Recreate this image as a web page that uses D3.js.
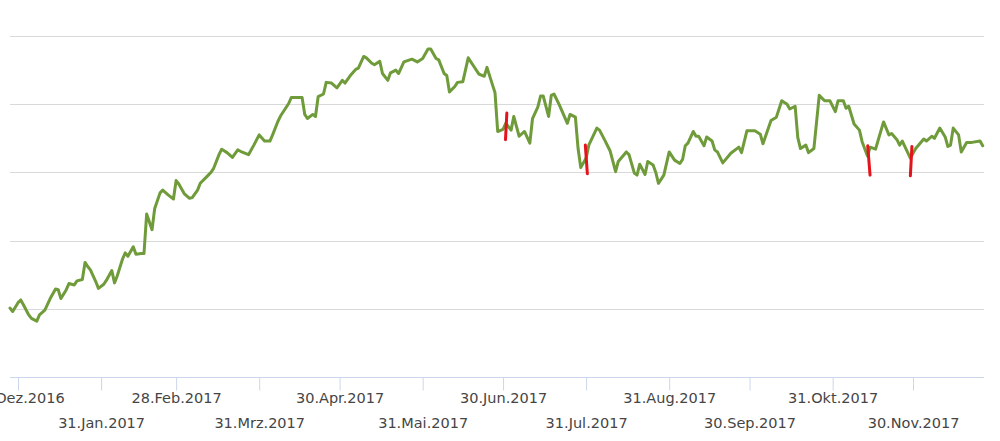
<!DOCTYPE html>
<html>
<head>
<meta charset="utf-8">
<script src="https://cdn.jsdelivr.net/npm/d3@7"></script>
<style>
  html, body { margin: 0; padding: 0; background: #ffffff; }
  svg { display: block; }
</style>
</head>
<body>
<div id="chart"></div>
<script>
// ---- data ----
const dates = [
  "2016-12-28","2016-12-29","2016-12-31","2017-01-01","2017-01-02","2017-01-04","2017-01-05","2017-01-07","2017-01-08","2017-01-10",
  "2017-01-12","2017-01-14","2017-01-15","2017-01-16","2017-01-18","2017-01-19","2017-01-21","2017-01-22","2017-01-24","2017-01-25",
  "2017-01-26","2017-01-27","2017-01-29","2017-01-30","2017-02-01","2017-02-02","2017-02-04","2017-02-05","2017-02-06","2017-02-08",
  "2017-02-09","2017-02-10","2017-02-12","2017-02-13","2017-02-15","2017-02-16","2017-02-17","2017-02-19","2017-02-20","2017-02-22",
  "2017-02-23","2017-02-25","2017-02-27","2017-02-28","2017-03-01","2017-03-03","2017-03-05","2017-03-06","2017-03-08","2017-03-09",
  "2017-03-11","2017-03-13","2017-03-14","2017-03-16","2017-03-17","2017-03-19","2017-03-21","2017-03-23","2017-03-24","2017-03-27",
  "2017-03-29","2017-03-31","2017-04-02","2017-04-04","2017-04-05","2017-04-07","2017-04-08","2017-04-11","2017-04-12","2017-04-15",
  "2017-04-16","2017-04-17","2017-04-18","2017-04-20","2017-04-21","2017-04-22","2017-04-24","2017-04-25","2017-04-27","2017-04-29",
  "2017-05-01","2017-05-02","2017-05-04","2017-05-06","2017-05-07","2017-05-09","2017-05-10","2017-05-12","2017-05-13","2017-05-15",
  "2017-05-16","2017-05-18","2017-05-19","2017-05-21","2017-05-22","2017-05-24","2017-05-27","2017-05-29","2017-05-31","2017-06-02",
  "2017-06-03","2017-06-05","2017-06-06","2017-06-08","2017-06-09","2017-06-10","2017-06-12","2017-06-13","2017-06-15","2017-06-17",
  "2017-06-19","2017-06-21","2017-06-23","2017-06-24","2017-06-26","2017-06-27","2017-06-28","2017-06-30","2017-07-01","2017-07-03",
  "2017-07-04","2017-07-06","2017-07-08","2017-07-10","2017-07-11","2017-07-13","2017-07-14","2017-07-15","2017-07-17","2017-07-18",
  "2017-07-19","2017-07-21","2017-07-24","2017-07-25","2017-07-27","2017-07-28","2017-07-29","2017-07-31","2017-08-01","2017-08-04",
  "2017-08-05","2017-08-07","2017-08-09","2017-08-11","2017-08-12","2017-08-15","2017-08-16","2017-08-18","2017-08-19","2017-08-20",
  "2017-08-22","2017-08-23","2017-08-25","2017-08-26","2017-08-27","2017-08-29","2017-08-31","2017-09-02","2017-09-04","2017-09-05",
  "2017-09-06","2017-09-07","2017-09-09","2017-09-10","2017-09-11","2017-09-13","2017-09-14","2017-09-16","2017-09-17","2017-09-18",
  "2017-09-20","2017-09-23","2017-09-26","2017-09-27","2017-09-29","2017-10-02","2017-10-04","2017-10-05","2017-10-08","2017-10-10",
  "2017-10-12","2017-10-14","2017-10-15","2017-10-17","2017-10-18","2017-10-19","2017-10-21","2017-10-22","2017-10-24","2017-10-26",
  "2017-10-28","2017-10-30","2017-11-01","2017-11-02","2017-11-04","2017-11-05","2017-11-06","2017-11-08","2017-11-10","2017-11-11",
  "2017-11-13","2017-11-14","2017-11-16","2017-11-19","2017-11-21","2017-11-22","2017-11-24","2017-11-25","2017-11-26","2017-11-29",
  "2017-12-01","2017-12-04","2017-12-05","2017-12-07","2017-12-08","2017-12-10","2017-12-12","2017-12-13","2017-12-14","2017-12-15",
  "2017-12-17","2017-12-18","2017-12-20","2017-12-22","2017-12-25","2017-12-26"
];
const values = [
  90.1, 89.6, 90.9, 91.3, 90.6, 89.1, 88.6, 88.2, 89.1, 89.8,
  91.5, 92.9, 92.8, 91.5, 92.8, 93.7, 93.5, 94.1, 94.3, 96.8,
  96.2, 95.7, 94.0, 93.0, 93.6, 94.2, 95.6, 93.8, 94.8, 97.3,
  98.2, 97.7, 99.1, 98.0, 98.1, 98.1, 103.9, 101.6, 104.7, 107.0,
  107.4, 106.7, 106.1, 108.8, 108.3, 106.9, 106.2, 106.3, 107.4, 108.4,
  109.2, 110.0, 110.6, 112.6, 113.4, 112.9, 112.2, 113.3, 113.1, 112.6,
  114.0, 115.5, 114.6, 114.6, 115.5, 117.5, 118.3, 120.1, 121.0, 121.0,
  121.0, 118.5, 117.9, 118.5, 118.2, 121.1, 121.5, 123.2, 123.1, 122.4,
  123.5, 123.1, 124.2, 125.1, 125.3, 127.0, 126.8, 126.0, 125.8, 126.3,
  124.5, 123.5, 124.6, 125.0, 124.5, 126.2, 126.6, 126.2, 126.7, 128.1,
  128.1, 126.7, 126.5, 124.5, 124.2, 121.8, 122.6, 123.2, 123.3, 126.8,
  125.6, 124.4, 124.1, 125.4, 122.9, 121.7, 116.0, 116.3, 117.2, 116.2,
  118.2, 115.3, 116.0, 114.3, 117.9, 119.6, 121.2, 121.2, 118.2, 121.3,
  121.5, 119.9, 117.2, 118.5, 118.1, 113.5, 110.7, 112.1, 114.0, 116.5,
  116.2, 114.7, 113.1, 110.1, 111.6, 113.0, 112.6, 109.9, 109.6, 111.2,
  109.7, 111.6, 111.1, 110.0, 108.4, 109.6, 113.0, 111.8, 111.3, 111.9,
  113.9, 114.3, 116.0, 115.3, 115.3, 113.9, 115.2, 114.6, 113.3, 113.0,
  111.4, 112.8, 113.7, 112.9, 116.1, 116.1, 115.6, 114.2, 117.6, 118.1,
  120.5, 120.0, 119.3, 119.7, 115.1, 113.5, 114.0, 112.9, 113.5, 121.3,
  120.5, 120.5, 118.9, 120.5, 120.5, 119.4, 119.7, 117.1, 116.2, 114.5,
  112.4, 113.7, 113.4, 117.4, 115.5, 115.7, 114.8, 114.0, 114.6, 112.1,
  113.5, 114.9, 114.6, 115.3, 115.0, 116.5, 115.2, 113.8, 114.0, 116.5,
  115.5, 113.0, 114.4, 114.4, 114.6, 113.9
];

// red annotation strokes: start/end time and value
const markStart = ["2017-07-01T10:00","2017-07-30T17:00","2017-11-13T02:00","2017-11-29T14:00"];
const markEnd   = ["2017-06-30T22:00","2017-07-31T11:00","2017-11-13T23:00","2017-11-29T00:00"];
const markTop    = [118.7, 114.0, 113.9, 113.8];
const markBottom = [114.8, 109.8, 109.6, 109.5];

const tickDates  = ["2016-12-31","2017-01-31","2017-02-28","2017-03-31","2017-04-30","2017-05-31",
                    "2017-06-30","2017-07-31","2017-08-31","2017-09-30","2017-10-31","2017-11-30"];
const tickLabels = ["31.Dez.2016","31.Jan.2017","28.Feb.2017","31.Mrz.2017","30.Apr.2017","31.Mai.2017",
                    "30.Jun.2017","31.Jul.2017","31.Aug.2017","30.Sep.2017","31.Okt.2017","30.Nov.2017"];
const gridValues = [90, 100, 110, 120, 130];

// ---- drawing ----
const W = 1000, H = 441;
const FONT = "'DejaVu Sans', Verdana, sans-serif";
const parseDay = d3.utcParse("%Y-%m-%d");
const parseTime = d3.utcParse("%Y-%m-%dT%H:%M");

const data = dates.map((d, i) => ({ date: parseDay(d), value: values[i] }));

const x = d3.scaleUtc()
  .domain([parseDay("2016-12-28"), parseDay("2017-12-26")])
  .range([10, 982.7]);
const y = d3.scaleLinear().domain([80, 130]).range([377, 36]);

const svg = d3.select("#chart").append("svg")
  .attr("width", W).attr("height", H);

svg.append("rect").attr("width", W).attr("height", H).attr("fill", "#fff");

// horizontal grid
svg.append("g")
  .selectAll("line").data(gridValues).join("line")
  .attr("x1", 10).attr("x2", 984)
  .attr("y1", d => Math.round(y(d)) + 0.5).attr("y2", d => Math.round(y(d)) + 0.5)
  .attr("stroke", "#d9d9d9").attr("stroke-width", 1);

// x axis
const tickParsed = tickDates.map(parseDay);
const axis = d3.axisBottom(x)
  .tickValues(tickParsed)
  .tickSize(13)
  .tickSizeOuter(0)
  .tickFormat((d, i) => tickLabels[i]);

const gx = svg.append("g").attr("transform", "translate(0,377.5)").call(axis);
gx.attr("font-family", null).attr("font-size", null);
gx.select(".domain").remove();
gx.append("line").attr("x1", 10).attr("x2", 984).attr("y1", 0).attr("y2", 0)
  .attr("stroke", "#ccd6eb").attr("stroke-width", 1);
gx.selectAll(".tick line").attr("stroke", "#ccd6eb").attr("stroke-width", 1);
gx.selectAll(".tick text")
  .attr("fill", "#454545")
  .style("font-family", FONT)
  .style("font-size", "14.5px")
  .attr("dy", null)
  .attr("y", (d, i) => i % 2 === 0 ? 25.5 : 50.5);

// line
const line = d3.line().x(d => x(d.date)).y(d => y(d.value));
svg.append("path").datum(data)
  .attr("fill", "none")
  .attr("stroke", "#6f9b3a")
  .attr("stroke-width", 3)
  .attr("stroke-linejoin", "round")
  .attr("stroke-linecap", "round")
  .attr("d", line);

// red marks
svg.append("g").selectAll("line").data(markStart).join("line")
  .attr("x1", (d, i) => x(parseTime(markStart[i])))
  .attr("y1", (d, i) => y(markTop[i]))
  .attr("x2", (d, i) => x(parseTime(markEnd[i])))
  .attr("y2", (d, i) => y(markBottom[i]))
  .attr("stroke", "#e3141b")
  .attr("stroke-width", 3)
  .attr("stroke-linecap", "round");
</script>
</body>
</html>
